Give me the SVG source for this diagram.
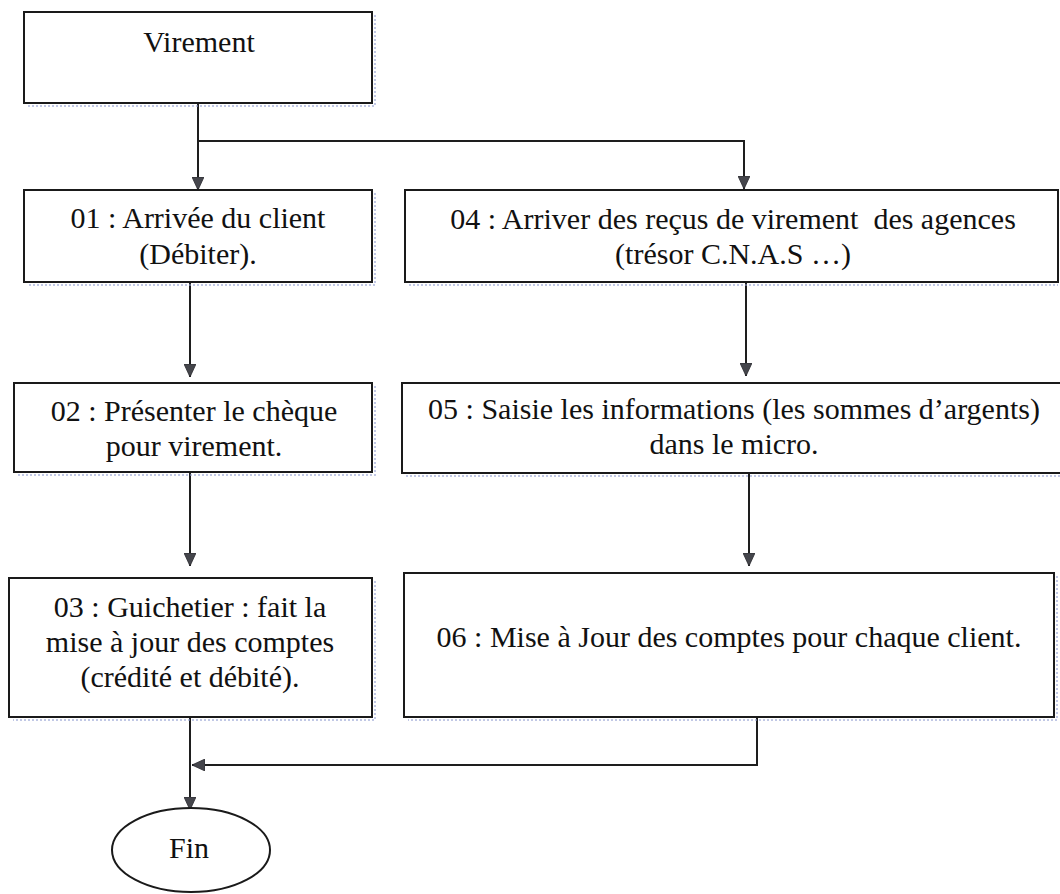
<svg xmlns="http://www.w3.org/2000/svg" width="1060" height="894" viewBox="0 0 1060 894">
  <style>
    .box { fill: #ffffff; stroke: #1a1a1a; stroke-width: 2; }
    .shade { fill: none; stroke: #8e9ad0; stroke-width: 2; stroke-dasharray: 2 2; opacity: 0.55; }
    .lbl { font-family: "Liberation Serif", "Times New Roman", serif; font-size: 30px; fill: #111111; text-anchor: middle; }
    .wire { fill: none; stroke: #1e1e1e; stroke-width: 2; }
  </style>
  <defs>
    <!-- filled triangle head, drawn along +x so orient="auto" follows the wire -->
    <marker id="tip" viewBox="0 0 13 12" refX="13" refY="6" markerWidth="13" markerHeight="12" markerUnits="userSpaceOnUse" orient="auto">
      <path d="M0,0 L13,6 L0,12 Z" fill="#45464c" stroke="#2a2a2e" stroke-width="0.8"/>
    </marker>
  </defs>

  <rect width="1060" height="894" fill="#ffffff"/>

  <!-- connectors -->
  <g id="connectors">
    <path class="wire" d="M198,103 V190" marker-end="url(#tip)"/>
    <path class="wire" d="M198,141 H744 V189" marker-end="url(#tip)"/>
    <path class="wire" d="M190,282 V377" marker-end="url(#tip)"/>
    <path class="wire" d="M190,472 V566" marker-end="url(#tip)"/>
    <path class="wire" d="M746,282 V376" marker-end="url(#tip)"/>
    <path class="wire" d="M749,473 V566" marker-end="url(#tip)"/>
    <path class="wire" d="M757,717 V765 H192" marker-end="url(#tip)"/>
    <path class="wire" d="M190,717 V810" marker-end="url(#tip)"/>
  </g>

  <!-- start -->
  <g id="virement">
    <path class="shade" d="M375,15 V106 H28"/>
    <rect class="box" x="24" y="12" width="348" height="91"/>
    <text class="lbl" x="199" y="52">Virement</text>
  </g>

  <g id="step01">
    <path class="shade" d="M375,193 V285 H28"/>
    <rect class="box" x="24" y="190" width="348" height="92"/>
    <text class="lbl" x="198" y="228">01 : Arrivée du client</text>
    <text class="lbl" x="198" y="264">(Débiter).</text>
  </g>

  <g id="step02">
    <path class="shade" d="M375,386 V475 H18"/>
    <rect class="box" x="14" y="383" width="358" height="89"/>
    <text class="lbl" x="194" y="421">02 : Présenter le chèque</text>
    <text class="lbl" x="194" y="456">pour virement.</text>
  </g>

  <g id="step03">
    <path class="shade" d="M375,581 V720 H13"/>
    <rect class="box" x="9" y="578" width="363" height="139"/>
    <text class="lbl" x="190" y="617">03 : Guichetier : fait la</text>
    <text class="lbl" x="190" y="652">mise à jour des comptes</text>
    <text class="lbl" x="190" y="687">(crédité et débité).</text>
  </g>

  <g id="step04">
    <path class="shade" d="M409,285 H1058"/>
    <rect class="box" x="405" y="190" width="653" height="92"/>
    <text class="lbl" x="733" y="229" xml:space="preserve">04 : Arriver des reçus de virement  des agences</text>
    <text class="lbl" x="733" y="264">(trésor C.N.A.S …)</text>
  </g>

  <g id="step05">
    <path class="shade" d="M406,476 H1060"/>
    <rect class="box" x="402" y="383" width="662" height="90"/>
    <text class="lbl" x="734" y="419">05 : Saisie les informations (les sommes d’argents)</text>
    <text class="lbl" x="734" y="454">dans le micro.</text>
  </g>

  <g id="step06">
    <path class="shade" d="M1057,576 V720 H408"/>
    <rect class="box" x="404" y="573" width="650" height="144"/>
    <text class="lbl" x="729" y="647">06 : Mise à Jour des comptes pour chaque client.</text>
  </g>

  <!-- end -->
  <g id="fin">
    <ellipse class="box" cx="191" cy="850" rx="79" ry="42"/>
    <text class="lbl" x="189" y="858">Fin</text>
  </g>
</svg>
